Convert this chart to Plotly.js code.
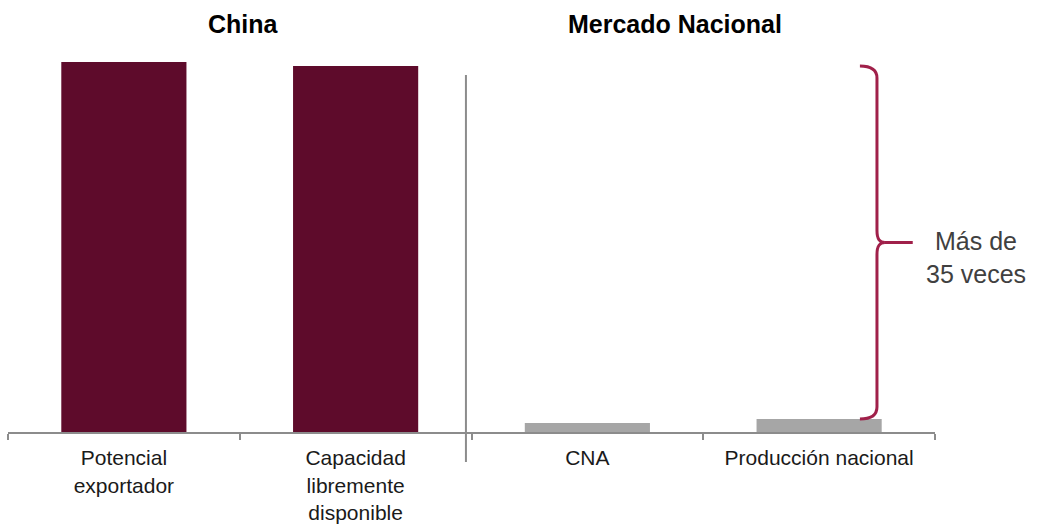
<!DOCTYPE html>
<html>
<head>
<meta charset="utf-8">
<script src="https://cdn.plot.ly/plotly-3.0.1.min.js"></script>
<style>html,body{margin:0;padding:0;background:#fff;}#chart{width:1044px;height:529px;}</style>
</head>
<body>
<div id="chart"></div>
<script>
// Data (relative units)
const categories = ["Potencial<br>exportador", "Capacidad<br>libremente<br>disponible", "CNA", "Producción nacional"];
const values = [37.0, 36.6, 0.9, 1.3];
const barColors = ["#5E0B2B", "#5E0B2B", "#A6A6A6", "#A6A6A6"];
const groupTitles = ["China", "Mercado Nacional"];
const braceLabel = "Más de<br>35 veces";

const braceTop = values[1];
const braceBot = values[3];
const braceMid = (braceTop + braceBot) / 2;
const r = 1.2;
const xs = 0.919, xv = 0.9374, xp = 0.946, xe = 0.976;
const bracePath =
  `M ${xs},${braceTop} C ${xs+0.012},${braceTop} ${xv},${braceTop-0.4} ${xv},${braceTop-r} ` +
  `L ${xv},${braceMid+r} C ${xv},${braceMid+0.3} ${xv+0.003},${braceMid} ${xp},${braceMid} ` +
  `C ${xv+0.003},${braceMid} ${xv},${braceMid-0.3} ${xv},${braceMid-r} ` +
  `L ${xv},${braceBot+r} C ${xv},${braceBot+0.4} ${xs+0.012},${braceBot} ${xs},${braceBot}`;

const data = [{
  type: "bar",
  x: categories,
  y: values,
  marker: {color: barColors},
  width: 0.54,
  hoverinfo: "skip"
}];

const layout = {
  width: 1044, height: 529,
  margin: {l: 8, r: 109, t: 32, b: 97},
  paper_bgcolor: "#ffffff", plot_bgcolor: "#ffffff",
  showlegend: false,
  font: {family: "Liberation Sans, Arial, sans-serif", color: "#1a1a1a"},
  xaxis: {
    type: "category",
    range: [-0.5, 3.5],
    showline: true, linecolor: "#8C8C8C", linewidth: 2,
    ticks: "outside", tickson: "boundaries", ticklen: 6, tickwidth: 2, tickcolor: "#8C8C8C",
    ticklabelstandoff: 6,
    tickfont: {size: 21, color: "#1a1a1a", family: "Liberation Sans, Arial, sans-serif"},
    showgrid: false, zeroline: false, fixedrange: true
  },
  yaxis: {
    range: [0, 40], visible: false, showgrid: false, zeroline: false, fixedrange: true
  },
  shapes: [
    {type: "line", xref: "paper", yref: "paper", x0: 0.494, x1: 0.494, y0: 0.8925, y1: -0.075,
     line: {color: "#8C8C8C", width: 2}},
    {type: "path", xref: "paper", yref: "y", path: bracePath, line: {color: "#A0204A", width: 3}},
    {type: "line", xref: "paper", yref: "y", x0: xp, x1: xe, y0: braceMid, y1: braceMid,
     line: {color: "#A0204A", width: 3}}
  ],
  annotations: [
    {text: "<b>" + groupTitles[0] + "</b>", xref: "paper", yref: "paper", x: 0.254, y: 1.02,
     yanchor: "middle", xanchor: "center", showarrow: false, font: {size: 25, color: "#000"}},
    {text: "<b>" + groupTitles[1] + "</b>", xref: "paper", yref: "paper", x: 0.72, y: 1.02,
     yanchor: "middle", xanchor: "center", showarrow: false, font: {size: 25, color: "#000"}},
    {text: braceLabel, xref: "paper", yref: "y", x: 1.044, y: braceMid - 1.5,
     xanchor: "center", yanchor: "middle", showarrow: false, align: "center",
     font: {size: 25, color: "#404040"}}
  ]
};

Plotly.newPlot("chart", data, layout, {displayModeBar: false, staticPlot: true});
</script>
</body>
</html>
